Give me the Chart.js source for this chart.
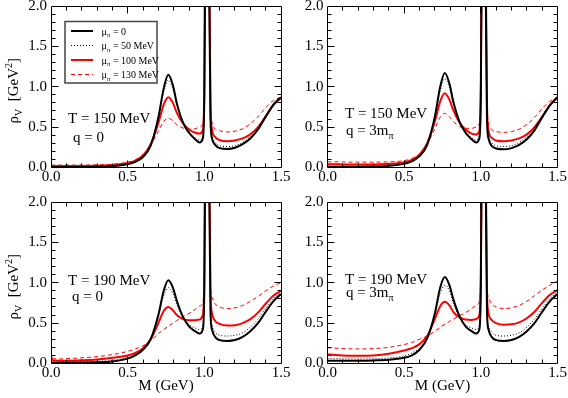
<!DOCTYPE html>
<html><head><meta charset="utf-8">
<script src="https://cdn.jsdelivr.net/npm/chart.js@4"></script>
<style>
html,body{margin:0;padding:0;background:#fff;}
#wrap{position:relative;width:568px;height:398px;overflow:hidden;background:#fff;}
canvas{position:absolute;left:0;top:0;}
</style></head><body>
<div id="wrap">
<canvas id="c0" width="568" height="398"></canvas>
<canvas id="c1" width="568" height="398"></canvas>
<canvas id="c2" width="568" height="398"></canvas>
<canvas id="c3" width="568" height="398"></canvas>
</div>
<script>
// ---------- data ----------
const M = [0, 0.01, 0.05, 0.1, 0.2, 0.3, 0.4, 0.5, 0.55, 0.6, 0.65, 0.7, 0.735, 0.765, 0.795, 0.82, 0.86, 0.9, 0.94, 0.97, 0.99, 1.0, 1.01, 1.02, 1.03, 1.04, 1.05, 1.07, 1.1, 1.15, 1.2, 1.25, 1.3, 1.35, 1.4, 1.45, 1.5];

// T = 150 MeV, q = 0
const tl_mu0   = [0.005,0.005,0.005,0.005, 0.005,0.008,0.015,0.04, 0.07,0.13,0.27,0.62, 0.98,1.15,1.02,0.8, 0.56,0.43,0.35,0.31, 0.36,0.9,4,6, 2.6,0.6,0.36,0.28, 0.24,0.23,0.245,0.29, 0.36,0.47,0.63,0.78, 0.87];
const tl_mu50  = [0.01,0.01,0.01,0.01, 0.01,0.012,0.02,0.045, 0.075,0.14,0.28,0.6, 0.93,1.08,0.97,0.78, 0.57,0.45,0.37,0.34, 0.39,0.95,4,6, 2.6,0.65,0.4,0.31, 0.27,0.26,0.27,0.31, 0.38,0.49,0.64,0.78, 0.87];
const tl_mu100 = [0.02,0.02,0.02,0.02, 0.02,0.022,0.03,0.055, 0.085,0.15,0.29,0.55, 0.78,0.87,0.8,0.68, 0.55,0.47,0.43,0.42, 0.46,1.0,4,6, 3,0.8,0.47,0.38, 0.34,0.325,0.335,0.36, 0.41,0.5,0.63,0.77, 0.86];
const tl_mu130 = [0.03,0.03,0.03,0.03, 0.03,0.033,0.04,0.065, 0.095,0.16,0.28,0.45, 0.57,0.61,0.58,0.53, 0.49,0.475,0.48,0.5, 0.55,1.1,4,6, 3,0.85,0.56,0.48, 0.455,0.44,0.45,0.48, 0.54,0.63,0.74,0.83, 0.87];

// T = 150 MeV, q = 3 m_pi
const tr_mu0   = [0.01,0.01,0.01,0.01, 0.01,0.012,0.02,0.045, 0.075,0.14,0.28,0.63, 1.0,1.17,1.04,0.82, 0.57,0.43,0.35,0.31, 0.36,0.9,4,6, 2.6,0.6,0.36,0.27, 0.235,0.225,0.24,0.28, 0.35,0.46,0.62,0.77, 0.87];
const tr_mu50  = [0.015,0.015,0.015,0.015, 0.015,0.017,0.025,0.05, 0.08,0.145,0.29,0.62, 0.95,1.1,0.99,0.79, 0.57,0.45,0.37,0.34, 0.39,0.95,4,6, 2.6,0.65,0.4,0.31, 0.27,0.26,0.27,0.31, 0.38,0.49,0.64,0.78, 0.87];
const tr_mu100 = [0.04,0.04,0.04,0.038, 0.036,0.038,0.045,0.065, 0.095,0.16,0.3,0.57, 0.82,0.92,0.84,0.71, 0.56,0.47,0.42,0.41, 0.45,1.0,4,6, 3,0.8,0.46,0.37, 0.335,0.325,0.335,0.36, 0.41,0.5,0.63,0.77, 0.87];
const tr_mu130 = [0.07,0.07,0.07,0.068, 0.066,0.066,0.07,0.085, 0.11,0.17,0.29,0.48, 0.62,0.67,0.63,0.57, 0.51,0.485,0.485,0.5, 0.55,1.1,4,6, 3,0.85,0.55,0.47, 0.445,0.435,0.445,0.475, 0.535,0.62,0.73,0.82, 0.87];

// T = 190 MeV, q = 0
const bl_mu0   = [0.01,0.01,0.01,0.01, 0.012,0.015,0.025,0.06, 0.1,0.17,0.3,0.6, 0.9,1.03,0.94,0.78, 0.58,0.46,0.4,0.37, 0.42,0.95,4,6, 2.6,0.65,0.42,0.33, 0.29,0.28,0.29,0.33, 0.4,0.5,0.64,0.77, 0.86];
const bl_mu50  = [0.03,0.02,0.02,0.02, 0.022,0.027,0.04,0.075, 0.11,0.18,0.3,0.58, 0.84,0.94,0.87,0.73, 0.57,0.48,0.44,0.42, 0.47,1.0,4,6, 2.7,0.75,0.48,0.39, 0.35,0.34,0.35,0.38, 0.45,0.55,0.68,0.8, 0.88];
const bl_mu100 = [0.1,0.04,0.035,0.035, 0.04,0.05,0.07,0.1, 0.13,0.19,0.3,0.5, 0.65,0.7,0.66,0.6, 0.55,0.535,0.535,0.545, 0.6,1.1,4,6, 3,0.9,0.62,0.53, 0.49,0.47,0.475,0.5, 0.55,0.63,0.74,0.84, 0.9];
const bl_mu130 = [0.15,0.06,0.055,0.06, 0.07,0.085,0.11,0.15, 0.18,0.22,0.28,0.37, 0.42,0.46,0.5,0.53, 0.58,0.62,0.67,0.71, 0.76,1.2,4,6, 3,1.0,0.82,0.74, 0.7,0.68,0.69,0.72, 0.77,0.83,0.9,0.96, 1.0];

// T = 190 MeV, q = 3 m_pi
const br_mu0   = [0.035,0.035,0.035,0.035, 0.035,0.038,0.045,0.07, 0.1,0.17,0.31,0.62, 0.94,1.07,0.97,0.8, 0.59,0.46,0.4,0.37, 0.42,0.95,4,6, 2.6,0.65,0.42,0.33, 0.29,0.28,0.29,0.33, 0.4,0.5,0.64,0.77, 0.86];
const br_mu50  = [0.06,0.06,0.06,0.058, 0.056,0.058,0.068,0.095, 0.13,0.19,0.32,0.6, 0.87,0.97,0.9,0.75, 0.58,0.48,0.44,0.42, 0.47,1.0,4,6, 2.7,0.75,0.48,0.39, 0.35,0.34,0.35,0.38, 0.45,0.55,0.68,0.8, 0.88];
const br_mu100 = [0.11,0.11,0.105,0.1, 0.095,0.1,0.12,0.16, 0.19,0.24,0.34,0.55, 0.71,0.765,0.72,0.64, 0.57,0.545,0.54,0.55, 0.6,1.1,4,6, 3,0.9,0.62,0.54, 0.5,0.48,0.485,0.51, 0.56,0.64,0.75,0.85, 0.91];
const br_mu130 = [0.195,0.195,0.19,0.185, 0.18,0.185,0.2,0.235, 0.26,0.3,0.34,0.4, 0.45,0.485,0.52,0.55, 0.59,0.63,0.68,0.72, 0.77,1.2,4,6, 3,1.0,0.82,0.74, 0.7,0.68,0.69,0.72, 0.77,0.84,0.91,0.97, 1.02];

const seriesLabels = ['μ_π = 0', 'μ_π = 50 MeV', 'μ_π = 100 MeV', 'μ_π = 130 MeV'];
const panelNotes = [
  ['T = 150 MeV', 'q = 0'],
  ['T = 150 MeV', 'q = 3m_π'],
  ['T = 190 MeV', 'q = 0'],
  ['T = 190 MeV', 'q = 3m_π']
];
// note anchor positions in data units [M, rho] for the two lines
const notePos = [
  [[0.111, 0.61], [0.143, 0.38]],
  [[0.114, 0.68], [0.12, 0.46]],
  [[0.111, 1.03], [0.137, 0.84]],
  [[0.114, 1.05], [0.12, 0.89]]
];
const xTitle = 'M (GeV)';
const yTitle = 'ρ_V  [GeV^2]';

// ---------- styles ----------
const FONT = "'Liberation Serif','Times New Roman',Times,serif";
const W = 568, H = 398, YW = 45, XH = 34;
const COLORS = ['#000000', '#000000', '#ff0000', '#ff0000'];
const WIDTHS = [2, 1, 2, 1];
const DASHES = [[], [1, 2], [], [4, 3]];

function parseRich(s) {
  const parts = []; let buf = ''; let i = 0;
  while (i < s.length) {
    const c = s[i];
    if ((c === '_' || c === '^') && i + 1 < s.length) {
      if (buf) { parts.push({ t: buf, k: 0 }); buf = ''; }
      parts.push({ t: s[i + 1], k: c === '_' ? 1 : 2 }); i += 2;
    } else { buf += c; i++; }
  }
  if (buf) parts.push({ t: buf, k: 0 });
  return parts;
}
function subSize(size) { return Math.round(size * 0.68); }
function richWidth(ctx, s, size) {
  let w = 0;
  for (const p of parseRich(s)) { ctx.font = (p.k ? subSize(size) : size) + 'px ' + FONT; w += ctx.measureText(p.t).width; }
  return w;
}
function drawRich(ctx, s, x, baseline, size) {
  let cx = x;
  ctx.textBaseline = 'alphabetic'; ctx.textAlign = 'left';
  for (const p of parseRich(s)) {
    const fs = p.k ? subSize(size) : size;
    ctx.font = fs + 'px ' + FONT;
    const dy = p.k === 1 ? size * 0.27 : p.k === 2 ? -size * 0.4 : 0;
    ctx.fillText(p.t, cx, baseline + dy);
    cx += ctx.measureText(p.t).width;
  }
}

const framePlugin = {
  id: 'frameTicks',
  afterDatasetsDraw(chart) {
    const { ctx, chartArea: a, scales: { x, y } } = chart;
    const px = v => Math.floor(v) + 0.5;
    ctx.save();
    ctx.strokeStyle = '#000'; ctx.lineWidth = 1; ctx.setLineDash([]);
    ctx.beginPath();
    ctx.rect(px(a.left), px(a.top), px(a.right) - px(a.left), px(a.bottom) - px(a.top));
    ctx.stroke();
    ctx.beginPath();
    for (let i = 1; i < 15; i++) {
      const xx = px(x.getPixelForValue(i / 10));
      const len = i % 5 === 0 ? 7 : 4;
      ctx.moveTo(xx, px(a.bottom)); ctx.lineTo(xx, px(a.bottom) - len);
      ctx.moveTo(xx, px(a.top)); ctx.lineTo(xx, px(a.top) + len);
    }
    for (let i = 1; i < 20; i++) {
      const yy = px(y.getPixelForValue(i / 10));
      const len = i % 5 === 0 ? 7 : 4;
      ctx.moveTo(px(a.left), yy); ctx.lineTo(px(a.left) + len, yy);
      ctx.moveTo(px(a.right), yy); ctx.lineTo(px(a.right) - len, yy);
    }
    ctx.stroke();
    ctx.restore();
  }
};

const notesPlugin = {
  id: 'notes',
  afterDatasetsDraw(chart, args, opts) {
    const { ctx, scales: { x, y } } = chart;
    ctx.save(); ctx.fillStyle = '#000';
    opts.lines.forEach((line, i) => {
      const [mx, my] = opts.pos[i];
      drawRich(ctx, line, x.getPixelForValue(mx), y.getPixelForValue(my) + 5, 15);
    });
    if (opts.yTitle) {
      const a = chart.chartArea;
      const w = richWidth(ctx, opts.yTitle, 15);
      ctx.translate(18, (a.top + a.bottom) / 2 + 4);
      ctx.rotate(-Math.PI / 2);
      drawRich(ctx, opts.yTitle, -w / 2, 0, 15);
    }
    ctx.restore();
  }
};

const legendPlugin = {
  id: 'richLegend',
  afterDraw(chart, args, opts) {
    if (!opts.show) return;
    const { ctx, chartArea: a } = chart;
    const bx = a.left + 14, by = a.top + 15.5, bw = 92, bh = 61.5;
    ctx.save();
    ctx.fillStyle = '#fff';
    ctx.fillRect(bx, by, bw, bh);
    ctx.strokeStyle = '#444'; ctx.lineWidth = 1.5;
    ctx.strokeRect(bx, by, bw, bh);
    chart.data.datasets.forEach((ds, i) => {
      const cy = by + 9.5 + i * 14.5;
      ctx.strokeStyle = ds.borderColor; ctx.lineWidth = ds.borderWidth;
      ctx.setLineDash(ds.borderDash || []);
      ctx.beginPath(); ctx.moveTo(bx + 6, cy); ctx.lineTo(bx + 28, cy); ctx.stroke();
      ctx.setLineDash([]);
      ctx.fillStyle = '#000';
      drawRich(ctx, ds.label, bx + 36.5, cy + 3.5, 10);
    });
    ctx.restore();
  }
};

function zeroPad(s) { s.paddingLeft = 0; s.paddingRight = 0; s.paddingTop = 0; s.paddingBottom = 0; }

function makePanel(id, area, series, idx, opt) {
  const datasets = series.map((s, i) => ({
    label: seriesLabels[i],
    data: M.map((m, j) => ({ x: m, y: s[j] })),
    borderColor: COLORS[i], borderWidth: WIDTHS[i], borderDash: DASHES[i],
    pointRadius: 0, fill: false, cubicInterpolationMode: 'monotone'
  }));
  return new Chart(document.getElementById(id), {
    type: 'line',
    data: { datasets },
    options: {
      responsive: false, animation: false, events: [],
      layout: { padding: { left: area.l - YW, top: area.t, right: W - area.r, bottom: H - area.b - XH } },
      plugins: {
        legend: { display: false }, tooltip: { enabled: false },
        notes: { lines: panelNotes[idx], pos: notePos[idx], yTitle: opt.yTitle ? yTitle : null },
        richLegend: { show: !!opt.legend }
      },
      scales: {
        x: {
          type: 'linear', position: 'bottom', min: 0, max: 1.5,
          grid: { display: false, drawTicks: false }, border: { display: false },
          ticks: { stepSize: 0.5, padding: 1, color: '#000', font: { family: FONT, size: 15 }, maxRotation: 0, autoSkip: false,
                   callback: v => Number(v).toFixed(1) },
          title: { display: !!opt.xTitle, text: xTitle, color: '#000', font: { family: FONT, size: 15 }, padding: { top: 0, bottom: 2 } },
          afterFit(s) { s.height = XH; zeroPad(s); }
        },
        y: {
          type: 'linear', position: 'left', min: 0, max: 2,
          grid: { display: false, drawTicks: false }, border: { display: false },
          ticks: { stepSize: 0.5, padding: 4, color: '#000', font: { family: FONT, size: 15 }, autoSkip: false,
                   callback: v => Number(v).toFixed(1) },
          afterFit(s) { s.width = YW; zeroPad(s); }
        }
      }
    },
    plugins: [framePlugin, notesPlugin, legendPlugin]
  });
}

makePanel('c0', { l: 51, r: 281, t: 6, b: 167.5 }, [tl_mu0, tl_mu50, tl_mu100, tl_mu130], 0, { legend: true, yTitle: true });
makePanel('c1', { l: 327.5, r: 557.5, t: 6, b: 167.5 }, [tr_mu0, tr_mu50, tr_mu100, tr_mu130], 1, {});
makePanel('c2', { l: 51, r: 281, t: 202, b: 363.5 }, [bl_mu0, bl_mu50, bl_mu100, bl_mu130], 2, { yTitle: true, xTitle: true });
makePanel('c3', { l: 327.5, r: 557.5, t: 202, b: 363.5 }, [br_mu0, br_mu50, br_mu100, br_mu130], 3, { xTitle: true });
</script>
</body></html>
